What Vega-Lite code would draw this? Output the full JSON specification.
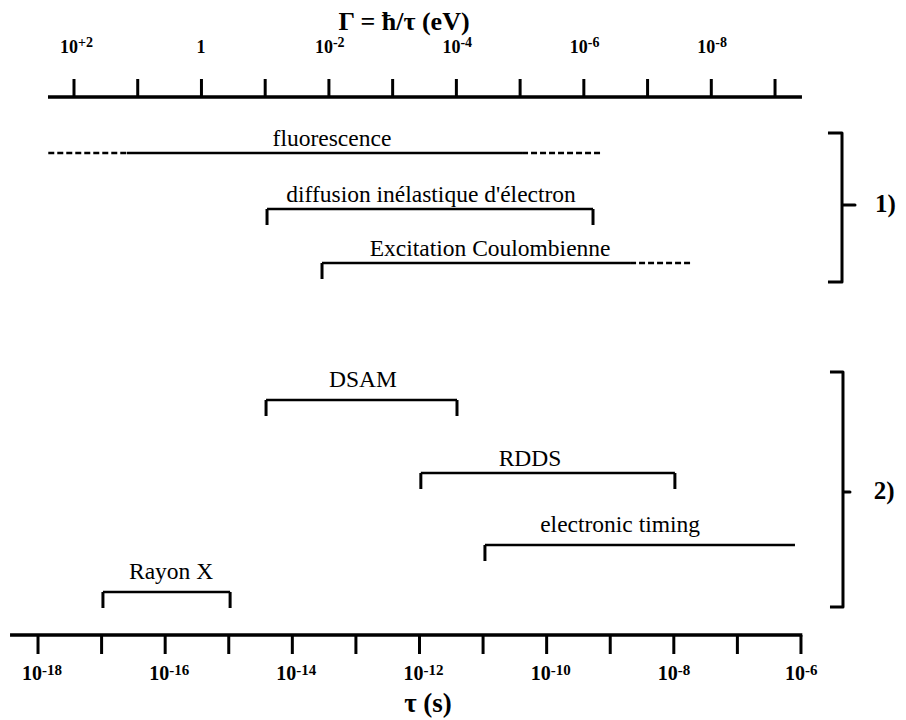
{
  "$schema": "https://vega.github.io/schema/vega-lite/v6.json",
  "width": 906,
  "height": 720,
  "autosize": {"type": "none"},
  "padding": 0,
  "background": "white",
  "config": {
    "view": {"stroke": null},
    "text": {"font": "Liberation Serif", "color": "black", "baseline": "alphabetic"},
    "rule": {"color": "black"},
    "line": {"color": "black"}
  },
  "datasets": {
    "tauTicks": [
      {"tau": 1e-18, "exp": "-18"}, {"tau": 1e-17, "exp": ""}, {"tau": 1e-16, "exp": "-16"},
      {"tau": 1e-15, "exp": ""}, {"tau": 1e-14, "exp": "-14"}, {"tau": 1e-13, "exp": ""},
      {"tau": 1e-12, "exp": "-12"}, {"tau": 1e-11, "exp": ""}, {"tau": 1e-10, "exp": "-10"},
      {"tau": 1e-9, "exp": ""}, {"tau": 1e-8, "exp": "-8"}, {"tau": 1e-7, "exp": ""},
      {"tau": 1e-6, "exp": "-6"}
    ],
    "gammaTicks": [
      {"gamma": 100, "base": "10", "exp": "+2"}, {"gamma": 10, "base": "", "exp": ""},
      {"gamma": 1, "base": "1", "exp": ""}, {"gamma": 0.1, "base": "", "exp": ""},
      {"gamma": 0.01, "base": "10", "exp": "-2"}, {"gamma": 0.001, "base": "", "exp": ""},
      {"gamma": 1e-4, "base": "10", "exp": "-4"}, {"gamma": 1e-5, "base": "", "exp": ""},
      {"gamma": 1e-6, "base": "10", "exp": "-6"}, {"gamma": 1e-7, "base": "", "exp": ""},
      {"gamma": 1e-8, "base": "10", "exp": "-8"}, {"gamma": 1e-9, "base": "", "exp": ""}
    ],
    "methods": [
      {"label": "fluorescence", "group": 1, "row": 5, "start": 2.5e-17, "end": 4.1e-11, "labelAt": 4.2e-14, "leftTick": false, "rightTick": false},
      {"label": "diffusion inélastique d'électron", "group": 1, "row": 7, "start": 4.0e-15, "end": 5.36e-10, "labelAt": 1.52e-12, "leftTick": true, "rightTick": true},
      {"label": "Excitation Coulombienne", "group": 1, "row": 8, "start": 2.93e-14, "end": 2.05e-9, "labelAt": 1.29e-11, "leftTick": true, "rightTick": false},
      {"label": "DSAM", "group": 2, "row": 11, "start": 3.86e-15, "end": 3.89e-12, "labelAt": 1.29e-13, "leftTick": true, "rightTick": true},
      {"label": "RDDS", "group": 2, "row": 12, "start": 1.05e-12, "end": 1.04e-8, "labelAt": 5.47e-11, "leftTick": true, "rightTick": true},
      {"label": "electronic timing", "group": 2, "row": 14, "start": 1.07e-11, "end": 8.05e-7, "labelAt": 1.43e-9, "leftTick": true, "rightTick": false},
      {"label": "Rayon X", "group": 2, "row": 15, "start": 1.05e-17, "end": 1.05e-15, "labelAt": 1.24e-16, "leftTick": true, "rightTick": true}
    ],
    "extensions": [
      {"label": "fluorescence", "row": 5, "start": 1.45e-18, "end": 2.5e-17},
      {"label": "fluorescence", "row": 5, "start": 4.1e-11, "end": 7.4e-10},
      {"label": "Excitation Coulombienne", "row": 8, "start": 2.05e-9, "end": 2.0e-8}
    ],
    "brackets": [
      {"group": "1)", "order": 1, "tau": 2.66e-6, "row": 4},
      {"group": "1)", "order": 2, "tau": 4.42e-6, "row": 4},
      {"group": "1)", "order": 3, "tau": 4.42e-6, "row": 6},
      {"group": "1)", "order": 4, "tau": 7.08e-6, "row": 6},
      {"group": "1)", "order": 5, "tau": 4.42e-6, "row": 6},
      {"group": "1)", "order": 6, "tau": 4.42e-6, "row": 9},
      {"group": "1)", "order": 7, "tau": 2.66e-6, "row": 9},
      {"group": "2)", "order": 1, "tau": 2.86e-6, "row": 10},
      {"group": "2)", "order": 2, "tau": 4.58e-6, "row": 10},
      {"group": "2)", "order": 3, "tau": 4.58e-6, "row": 13},
      {"group": "2)", "order": 4, "tau": 5.9e-6, "row": 13},
      {"group": "2)", "order": 5, "tau": 4.58e-6, "row": 13},
      {"group": "2)", "order": 6, "tau": 4.58e-6, "row": 16},
      {"group": "2)", "order": 7, "tau": 2.86e-6, "row": 16}
    ],
    "groupLabels": [
      {"group": "1)", "tau": 1.46e-5, "row": 6},
      {"group": "2)", "tau": 1.39e-5, "row": 13}
    ]
  },
  "resolve": {"scale": {"x": "independent"}},
  "layer": [
    {
      "data": {"values": [{}]},
      "mark": {"type": "rule", "strokeWidth": 3.5},
      "encoding": {
        "x": {"datum": 3.63e-19, "type": "quantitative", "scale": {"type": "log", "domain": [2.524e-19, 4.487e-5], "nice": false}, "axis": null},
        "x2": {"datum": 1.05e-6},
        "y": {"datum": 17, "type": "quantitative", "scale": {"domain": [0,1,2,3,4,5,6,7,8,9,10,11,12,13,14,15,16,17,18,19,20], "range": [30,53,79,97,133,153,205,209,263,282,372,400,473,492,545,592,607,635,654,680,712], "zero": false, "nice": false}, "axis": null}
      }
    },
    {
      "data": {"name": "tauTicks"},
      "mark": {"type": "rule", "strokeWidth": 3},
      "encoding": {
        "x": {"field": "tau", "type": "quantitative", "scale": {"type": "log", "domain": [2.524e-19, 4.487e-5], "nice": false}, "axis": null},
        "y": {"datum": 17, "type": "quantitative", "scale": {"domain": [0,1,2,3,4,5,6,7,8,9,10,11,12,13,14,15,16,17,18,19,20], "range": [30,53,79,97,133,153,205,209,263,282,372,400,473,492,545,592,607,635,654,680,712], "zero": false, "nice": false}, "axis": null},
        "y2": {"datum": 18}
      }
    },
    {
      "data": {"name": "tauTicks"},
      "transform": [{"filter": "datum.exp != ''"}],
      "mark": {"type": "text", "font": "Liberation Serif", "baseline": "alphabetic", "align": "right", "dx": 4, "fontSize": 20, "fontWeight": "bold"},
      "encoding": {
        "x": {"field": "tau", "type": "quantitative", "scale": {"type": "log", "domain": [2.524e-19, 4.487e-5], "nice": false}, "axis": null},
        "y": {"datum": 19, "type": "quantitative", "scale": {"domain": [0,1,2,3,4,5,6,7,8,9,10,11,12,13,14,15,16,17,18,19,20], "range": [30,53,79,97,133,153,205,209,263,282,372,400,473,492,545,592,607,635,654,680,712], "zero": false, "nice": false}, "axis": null},
        "text": {"value": "10"}
      }
    },
    {
      "data": {"name": "tauTicks"},
      "transform": [{"filter": "datum.exp != ''"}],
      "mark": {"type": "text", "font": "Liberation Serif", "baseline": "alphabetic", "align": "left", "dx": 4, "dy": -5, "fontSize": 15, "fontWeight": "bold"},
      "encoding": {
        "x": {"field": "tau", "type": "quantitative", "scale": {"type": "log", "domain": [2.524e-19, 4.487e-5], "nice": false}, "axis": null},
        "y": {"datum": 19, "type": "quantitative", "scale": {"domain": [0,1,2,3,4,5,6,7,8,9,10,11,12,13,14,15,16,17,18,19,20], "range": [30,53,79,97,133,153,205,209,263,282,372,400,473,492,545,592,607,635,654,680,712], "zero": false, "nice": false}, "axis": null},
        "text": {"field": "exp"}
      }
    },
    {
      "data": {"values": [{}]},
      "mark": {"type": "text", "font": "Liberation Serif", "baseline": "alphabetic", "align": "center", "fontSize": 27, "fontWeight": "bold"},
      "encoding": {
        "x": {"datum": 1.36e-12, "type": "quantitative", "scale": {"type": "log", "domain": [2.524e-19, 4.487e-5], "nice": false}, "axis": null},
        "y": {"datum": 20, "type": "quantitative", "scale": {"domain": [0,1,2,3,4,5,6,7,8,9,10,11,12,13,14,15,16,17,18,19,20], "range": [30,53,79,97,133,153,205,209,263,282,372,400,473,492,545,592,607,635,654,680,712], "zero": false, "nice": false}, "axis": null},
        "text": {"value": "τ (s)"}
      }
    },
    {
      "data": {"values": [{}]},
      "mark": {"type": "rule", "strokeWidth": 3.5},
      "encoding": {
        "x": {"datum": 255.8, "type": "quantitative", "scale": {"type": "log", "domain": [8.81e-12, 1449], "reverse": true, "nice": false}, "axis": null},
        "x2": {"datum": 3.78e-10},
        "y": {"datum": 3, "type": "quantitative", "scale": {"domain": [0,1,2,3,4,5,6,7,8,9,10,11,12,13,14,15,16,17,18,19,20], "range": [30,53,79,97,133,153,205,209,263,282,372,400,473,492,545,592,607,635,654,680,712], "zero": false, "nice": false}, "axis": null}
      }
    },
    {
      "data": {"name": "gammaTicks"},
      "mark": {"type": "rule", "strokeWidth": 3},
      "encoding": {
        "x": {"field": "gamma", "type": "quantitative", "scale": {"type": "log", "domain": [8.81e-12, 1449], "reverse": true, "nice": false}, "axis": null},
        "y": {"datum": 2, "type": "quantitative", "scale": {"domain": [0,1,2,3,4,5,6,7,8,9,10,11,12,13,14,15,16,17,18,19,20], "range": [30,53,79,97,133,153,205,209,263,282,372,400,473,492,545,592,607,635,654,680,712], "zero": false, "nice": false}, "axis": null},
        "y2": {"datum": 3}
      }
    },
    {
      "data": {"name": "gammaTicks"},
      "transform": [{"filter": "datum.base != ''"}],
      "mark": {"type": "text", "font": "Liberation Serif", "baseline": "alphabetic", "align": "right", "dx": 4, "fontSize": 18, "fontWeight": "bold"},
      "encoding": {
        "x": {"field": "gamma", "type": "quantitative", "scale": {"type": "log", "domain": [8.81e-12, 1449], "reverse": true, "nice": false}, "axis": null},
        "y": {"datum": 1, "type": "quantitative", "scale": {"domain": [0,1,2,3,4,5,6,7,8,9,10,11,12,13,14,15,16,17,18,19,20], "range": [30,53,79,97,133,153,205,209,263,282,372,400,473,492,545,592,607,635,654,680,712], "zero": false, "nice": false}, "axis": null},
        "text": {"field": "base"}
      }
    },
    {
      "data": {"name": "gammaTicks"},
      "transform": [{"filter": "datum.exp != ''"}],
      "mark": {"type": "text", "font": "Liberation Serif", "baseline": "alphabetic", "align": "left", "dx": 4, "dy": -6, "fontSize": 14, "fontWeight": "bold"},
      "encoding": {
        "x": {"field": "gamma", "type": "quantitative", "scale": {"type": "log", "domain": [8.81e-12, 1449], "reverse": true, "nice": false}, "axis": null},
        "y": {"datum": 1, "type": "quantitative", "scale": {"domain": [0,1,2,3,4,5,6,7,8,9,10,11,12,13,14,15,16,17,18,19,20], "range": [30,53,79,97,133,153,205,209,263,282,372,400,473,492,545,592,607,635,654,680,712], "zero": false, "nice": false}, "axis": null},
        "text": {"field": "exp"}
      }
    },
    {
      "data": {"values": [{}]},
      "mark": {"type": "text", "font": "Liberation Serif", "baseline": "alphabetic", "align": "center", "fontSize": 26, "fontWeight": "bold"},
      "encoding": {
        "x": {"datum": 6.64e-4, "type": "quantitative", "scale": {"type": "log", "domain": [8.81e-12, 1449], "reverse": true, "nice": false}, "axis": null},
        "y": {"datum": 0, "type": "quantitative", "scale": {"domain": [0,1,2,3,4,5,6,7,8,9,10,11,12,13,14,15,16,17,18,19,20], "range": [30,53,79,97,133,153,205,209,263,282,372,400,473,492,545,592,607,635,654,680,712], "zero": false, "nice": false}, "axis": null},
        "text": {"value": "Γ = ħ/τ (eV)"}
      }
    },
    {
      "data": {"name": "methods"},
      "mark": {"type": "rule", "strokeWidth": 2.5},
      "encoding": {
        "x": {"field": "start", "type": "quantitative", "scale": {"type": "log", "domain": [2.524e-19, 4.487e-5], "nice": false}, "axis": null},
        "x2": {"field": "end"},
        "y": {"field": "row", "type": "quantitative", "scale": {"domain": [0,1,2,3,4,5,6,7,8,9,10,11,12,13,14,15,16,17,18,19,20], "range": [30,53,79,97,133,153,205,209,263,282,372,400,473,492,545,592,607,635,654,680,712], "zero": false, "nice": false}, "axis": null}
      }
    },
    {
      "data": {"name": "extensions"},
      "mark": {"type": "rule", "strokeWidth": 2.5, "strokeDash": [6, 3]},
      "encoding": {
        "x": {"field": "start", "type": "quantitative", "scale": {"type": "log", "domain": [2.524e-19, 4.487e-5], "nice": false}, "axis": null},
        "x2": {"field": "end"},
        "y": {"field": "row", "type": "quantitative", "scale": {"domain": [0,1,2,3,4,5,6,7,8,9,10,11,12,13,14,15,16,17,18,19,20], "range": [30,53,79,97,133,153,205,209,263,282,372,400,473,492,545,592,607,635,654,680,712], "zero": false, "nice": false}, "axis": null}
      }
    },
    {
      "data": {"name": "methods"},
      "transform": [{"filter": "datum.leftTick"}],
      "mark": {"type": "rule", "strokeWidth": 3, "y2Offset": 16},
      "encoding": {
        "x": {"field": "start", "type": "quantitative", "scale": {"type": "log", "domain": [2.524e-19, 4.487e-5], "nice": false}, "axis": null},
        "y": {"field": "row", "type": "quantitative", "scale": {"domain": [0,1,2,3,4,5,6,7,8,9,10,11,12,13,14,15,16,17,18,19,20], "range": [30,53,79,97,133,153,205,209,263,282,372,400,473,492,545,592,607,635,654,680,712], "zero": false, "nice": false}, "axis": null},
        "y2": {"field": "row"}
      }
    },
    {
      "data": {"name": "methods"},
      "transform": [{"filter": "datum.rightTick"}],
      "mark": {"type": "rule", "strokeWidth": 3, "y2Offset": 16},
      "encoding": {
        "x": {"field": "end", "type": "quantitative", "scale": {"type": "log", "domain": [2.524e-19, 4.487e-5], "nice": false}, "axis": null},
        "y": {"field": "row", "type": "quantitative", "scale": {"domain": [0,1,2,3,4,5,6,7,8,9,10,11,12,13,14,15,16,17,18,19,20], "range": [30,53,79,97,133,153,205,209,263,282,372,400,473,492,545,592,607,635,654,680,712], "zero": false, "nice": false}, "axis": null},
        "y2": {"field": "row"}
      }
    },
    {
      "data": {"name": "methods"},
      "transform": [{"filter": "datum.group == 1 || datum.label == 'RDDS'"}],
      "mark": {"type": "text", "font": "Liberation Serif", "baseline": "alphabetic", "align": "center", "dy": -7, "fontSize": 23.5},
      "encoding": {
        "x": {"field": "labelAt", "type": "quantitative", "scale": {"type": "log", "domain": [2.524e-19, 4.487e-5], "nice": false}, "axis": null},
        "y": {"field": "row", "type": "quantitative", "scale": {"domain": [0,1,2,3,4,5,6,7,8,9,10,11,12,13,14,15,16,17,18,19,20], "range": [30,53,79,97,133,153,205,209,263,282,372,400,473,492,545,592,607,635,654,680,712], "zero": false, "nice": false}, "axis": null},
        "text": {"field": "label"}
      }
    },
    {
      "data": {"name": "methods"},
      "transform": [{"filter": "datum.group == 2 && datum.label != 'RDDS'"}],
      "mark": {"type": "text", "font": "Liberation Serif", "baseline": "alphabetic", "align": "center", "dy": -13, "fontSize": 23.5},
      "encoding": {
        "x": {"field": "labelAt", "type": "quantitative", "scale": {"type": "log", "domain": [2.524e-19, 4.487e-5], "nice": false}, "axis": null},
        "y": {"field": "row", "type": "quantitative", "scale": {"domain": [0,1,2,3,4,5,6,7,8,9,10,11,12,13,14,15,16,17,18,19,20], "range": [30,53,79,97,133,153,205,209,263,282,372,400,473,492,545,592,607,635,654,680,712], "zero": false, "nice": false}, "axis": null},
        "text": {"field": "label"}
      }
    },
    {
      "data": {"name": "brackets"},
      "mark": {"type": "line", "strokeWidth": 3, "strokeJoin": "round"},
      "encoding": {
        "x": {"field": "tau", "type": "quantitative", "scale": {"type": "log", "domain": [2.524e-19, 4.487e-5], "nice": false}, "axis": null},
        "y": {"field": "row", "type": "quantitative", "scale": {"domain": [0,1,2,3,4,5,6,7,8,9,10,11,12,13,14,15,16,17,18,19,20], "range": [30,53,79,97,133,153,205,209,263,282,372,400,473,492,545,592,607,635,654,680,712], "zero": false, "nice": false}, "axis": null},
        "detail": {"field": "group", "type": "nominal"},
        "order": {"field": "order", "type": "quantitative"}
      }
    },
    {
      "data": {"name": "groupLabels"},
      "mark": {"type": "text", "font": "Liberation Serif", "baseline": "alphabetic", "align": "left", "dy": 7, "fontSize": 25, "fontWeight": "bold"},
      "encoding": {
        "x": {"field": "tau", "type": "quantitative", "scale": {"type": "log", "domain": [2.524e-19, 4.487e-5], "nice": false}, "axis": null},
        "y": {"field": "row", "type": "quantitative", "scale": {"domain": [0,1,2,3,4,5,6,7,8,9,10,11,12,13,14,15,16,17,18,19,20], "range": [30,53,79,97,133,153,205,209,263,282,372,400,473,492,545,592,607,635,654,680,712], "zero": false, "nice": false}, "axis": null},
        "text": {"field": "group"}
      }
    }
  ]
}
